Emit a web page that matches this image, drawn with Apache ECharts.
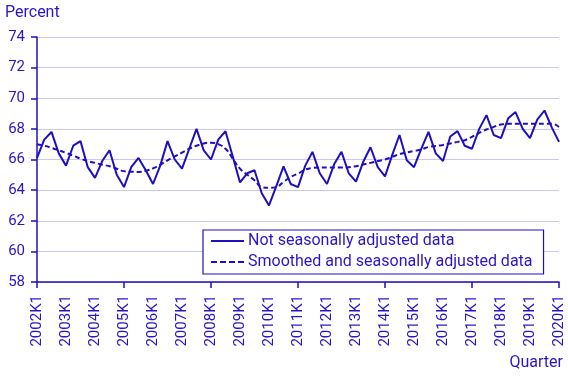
<!DOCTYPE html>
<html><head><meta charset="utf-8">
<script src="https://cdn.jsdelivr.net/npm/echarts@6/dist/echarts.min.js"></script>
<style>html,body{margin:0;padding:0;background:#fff}#c{width:568px;height:378px}</style>
</head><body><div id="c"></div>
<script>
const years = [];
for (let y = 2002; y <= 2020; y++) years.push(y);
const categories = [];
years.forEach(y => { for (let q = 1; q <= 4; q++) { if (y < 2020 || q === 1) categories.push(y + 'K' + q); } });

const notAdjusted = [
  66.1, 67.3, 67.8, 66.4,
  65.6, 66.9, 67.2, 65.5,
  64.8, 65.9, 66.6, 65.0,
  64.2, 65.5, 66.1, 65.3,
  64.4, 65.6, 67.2, 66.0,
  65.4, 66.7, 68.0, 66.6,
  66.0, 67.3, 67.85, 66.2,
  64.5, 65.1, 65.3, 63.8,
  63.0, 64.25, 65.55, 64.4,
  64.2, 65.6, 66.5, 65.1,
  64.4, 65.7, 66.5, 65.1,
  64.55, 65.85, 66.8, 65.5,
  64.9, 66.3, 67.6, 65.95,
  65.5, 66.7, 67.8, 66.4,
  65.9, 67.5, 67.85, 66.9,
  66.7, 68.0, 68.9, 67.6,
  67.4, 68.7, 69.1, 68.0,
  67.4, 68.6, 69.2, 68.1,
  67.15
];
const smoothed = [
  67.0, 66.9, 66.76, 66.6,
  66.43, 66.25, 66.06, 65.9,
  65.78, 65.66, 65.56, 65.4,
  65.24, 65.2, 65.19, 65.26,
  65.42, 65.65, 65.95, 66.2,
  66.45, 66.7, 66.9, 67.05,
  67.1, 67.0, 66.7, 66.06,
  65.4, 65.0, 64.65, 64.2,
  64.15, 64.2, 64.54, 64.86,
  65.08, 65.34, 65.45, 65.48,
  65.48, 65.48, 65.48, 65.5,
  65.56, 65.67, 65.78, 65.9,
  66.0, 66.17, 66.35, 66.46,
  66.56, 66.65, 66.82, 66.88,
  66.95, 67.05, 67.15, 67.26,
  67.48, 67.74, 67.96, 68.13,
  68.29, 68.33, 68.33, 68.33,
  68.33, 68.33, 68.33, 68.33,
  68.13
];
const seriesNames = ['Not seasonally adjusted data', 'Smoothed and seasonally adjusted data'];
const yTicks = {min: 58, max: 74, step: 2};

const C = '#1f0fbf';
const TXT = '#2a14c8';
const chart = echarts.init(document.getElementById('c'), null, {renderer: 'canvas'});
chart.setOption({
  animation: false,
  textStyle: {fontFamily: 'Roboto'},
  grid: {left: 37, right: 9, top: 37, bottom: 96, containLabel: false},
  xAxis: {
    type: 'category', data: categories, boundaryGap: false,
    axisLine: {lineStyle: {color: C, width: 1.5}},
    axisTick: {show: true, interval: 11, length: 6, lineStyle: {color: C, width: 1.5}},
    axisLabel: {interval: 3, rotate: 90, color: TXT, fontSize: 15, fontFamily: 'Roboto', margin: 13},
    splitLine: {show: false}
  },
  yAxis: {
    type: 'value', min: yTicks.min, max: yTicks.max, interval: yTicks.step,
    axisLine: {show: true, lineStyle: {color: C, width: 1.5}},
    axisTick: {show: true, length: 6, lineStyle: {color: C, width: 1.5}},
    axisLabel: {color: TXT, fontSize: 15, fontFamily: 'Roboto', margin: 12},
    splitLine: {show: true, lineStyle: {color: '#cbc8ef', width: 1}}
  },
  legend: {
    orient: 'vertical', left: 203, top: 230,
    backgroundColor: '#fff', borderColor: C, borderWidth: 1.2, borderRadius: 0,
    padding: [3, 11, 4, 8], itemGap: 5, itemWidth: 33, itemHeight: 2,
    textStyle: {color: TXT, fontSize: 16, fontFamily: 'Roboto', padding: [0, 0, 0, -1]},
    data: [
      {name: seriesNames[0], icon: 'path://M0,0H33V2H0Z', itemStyle: {color: C}},
      {name: seriesNames[1], icon: 'path://M0,0H6V2H0Z M9,0H15V2H9Z M18,0H24V2H18Z M27,0H33V2H27Z', itemStyle: {color: C}}
    ]
  },
  graphic: [
    {type: 'text', left: 5, top: 5, style: {text: 'Percent', fill: TXT, font: '16px Roboto'}},
    {type: 'text', right: 5, top: 355, style: {text: 'Quarter', fill: TXT, font: '16px Roboto'}}
  ],
  series: [
    {name: seriesNames[0], type: 'line', data: notAdjusted, symbol: 'none', smooth: false,
     lineStyle: {color: C, width: 2}, itemStyle: {color: C}},
    {name: seriesNames[1], type: 'line', data: smoothed, symbol: 'none', smooth: true,
     lineStyle: {color: C, width: 2, type: [5, 3]}, itemStyle: {color: C}}
  ]
});
</script></body></html>
